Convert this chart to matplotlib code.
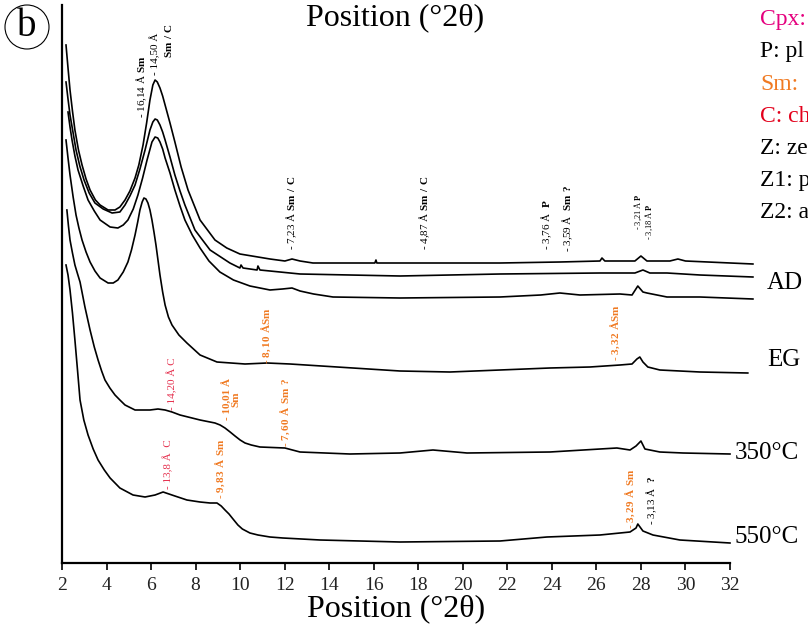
import matplotlib
matplotlib.use("Agg")
import matplotlib.pyplot as plt
from matplotlib.patches import Ellipse

# --- data: 2theta (deg) and intensity (a.u.) ---
top_2t = [2.18, 2.27, 2.36, 2.47, 2.58, 2.74, 2.90, 3.08, 3.26, 3.50, 3.71, 4.07, 4.38, 4.60,
          4.83, 5.05, 5.28, 5.45, 5.64, 5.80, 5.95, 6.08, 6.18, 6.28, 6.40, 6.52, 6.63, 6.85,
          7.07, 7.35, 7.66, 8.20, 8.87, 9.40, 9.99, 11.34, 12.01, 12.33, 12.69, 13.27, 16.05,
          16.10, 16.14, 21.67, 24.36, 26.16, 26.25, 26.38, 27.73, 28.00, 28.27, 29.30, 29.66,
          30.00, 33.03]
top_int = [518, 495, 473, 452, 433, 413, 398, 384, 373, 363, 358, 353, 353, 356,
           363, 372, 385, 398, 418, 440, 463, 478, 483, 481, 475, 467, 458, 440,
           421, 396, 373, 343, 323, 315, 309, 304, 302, 304, 302, 300, 300,
           303, 300, 300, 301, 302, 305, 302, 302, 307, 302, 302, 304,
           302, 299]

mid_2t = [2.18, 2.27, 2.36, 2.50, 2.63, 2.80, 2.99, 3.22, 3.48, 3.85, 4.25, 4.60, 4.83, 5.05,
          5.28, 5.50, 5.73, 5.95, 6.08, 6.18, 6.28, 6.40, 6.52, 6.63, 6.85, 7.07, 7.30, 7.52,
          7.97, 8.65, 9.54, 9.99, 10.04, 10.13, 10.76, 10.80, 10.89, 12.69, 17.18, 21.67,
          26.16, 27.73, 28.09, 28.40, 29.17, 30.65, 33.03]
mid_int = [481, 464, 448, 430, 413, 397, 383, 370, 360, 354, 350, 351, 358, 367,
           378, 394, 413, 433, 441, 444, 443, 438, 431, 423, 406, 388, 372, 358,
           333, 313, 300, 295, 298, 295, 293, 297, 293, 289, 287, 289,
           290, 290, 293, 290, 290, 288, 286]

ad_2t = [2.27, 2.36, 2.45, 2.58, 2.72, 2.95, 3.17, 3.45, 3.71, 4.16, 4.51, 4.75, 4.96, 5.20,
         5.41, 5.62, 5.82, 6.04, 6.18, 6.30, 6.40, 6.52, 6.63, 6.85, 7.07, 7.30, 7.52, 7.85,
         8.20, 8.60, 9.09, 9.70, 10.44, 11.34, 11.90, 12.33, 12.69, 13.30, 14.17, 17.18, 21.67,
         23.50, 24.36, 25.26, 27.06, 27.60, 27.86, 28.09, 28.27, 29.17, 30.65, 33.03]
ad_int = [451, 436, 423, 407, 393, 377, 363, 352, 343, 336, 335, 338, 343, 354,
          368, 385, 403, 421, 426, 425, 421, 414, 405, 390, 373, 357, 343, 328,
          315, 302, 291, 283, 277, 273, 274, 275, 272, 269, 266, 265, 266,
          268, 270, 268, 269, 268, 277, 271, 270, 266, 266, 264]

eg_2t = [2.18, 2.27, 2.36, 2.50, 2.63, 2.76, 2.90, 3.08, 3.26, 3.48, 3.71, 4.07, 4.30, 4.51,
         4.75, 4.96, 5.12, 5.28, 5.40, 5.50, 5.60, 5.68, 5.77, 5.86, 5.95, 6.04, 6.13, 6.22,
         6.31, 6.40, 6.52, 6.63, 6.78, 6.94, 7.25, 7.61, 8.20, 8.96, 10.22, 11.21, 12.24, 17.18,
         19.42, 21.67, 23.91, 25.71, 27.06, 27.60, 27.82, 27.95, 28.09, 28.31, 28.85, 30.65,
         32.80]
eg_int = [423, 405, 388, 366, 348, 335, 323, 311, 301, 292, 285, 280, 280, 283,
          291, 301, 313, 328, 341, 353, 361, 365, 364, 360, 353, 343, 331, 318,
          303, 288, 271, 258, 246, 238, 228, 220, 208, 201, 199, 200, 199, 192,
          191, 193, 195, 196, 198, 199, 204, 206, 201, 196, 193, 191,
          190]

t350_2t = [2.22, 2.29, 2.36, 2.47, 2.58, 2.70, 2.81, 3.03, 3.26, 3.45, 3.62, 3.78, 3.93, 4.15,
           4.38, 4.60, 4.83, 5.28, 5.95, 6.31, 6.63, 6.94, 7.30, 8.20, 8.87, 9.10, 9.32, 9.55,
           9.77, 10.00, 10.22, 10.50, 10.89, 12.01, 12.69, 14.93, 17.18, 18.66, 20.19, 23.91,
           26.92, 27.51, 27.78, 28.00, 28.18, 28.85, 29.89, 32.00]
t350_int = [353, 337, 323, 310, 298, 289, 281, 256, 233, 216, 203, 192, 183, 175,
            168, 163, 158, 153, 153, 154, 153, 151, 148, 143, 140, 138, 135, 131,
            127, 123, 120, 118, 116, 115, 111, 109, 110, 113, 110, 111,
            115, 113, 117, 122, 114, 111, 110, 109]

t550_2t = [2.18, 2.27, 2.36, 2.47, 2.58, 2.70, 2.81, 2.98, 3.17, 3.40, 3.62, 3.90, 4.16, 4.60,
           5.19, 5.73, 6.18, 6.54, 7.07, 7.61, 8.20, 8.65, 8.96, 9.15, 9.32, 9.50, 9.68, 9.90,
           10.10, 10.44, 10.80, 11.34, 11.92, 13.59, 17.18, 21.67, 23.78, 26.16, 27.51, 27.78,
           27.86, 28.09, 28.54, 29.75, 32.00]
t550_int = [298, 288, 273, 250, 223, 192, 163, 143, 128, 114, 103, 93, 85, 75,
            68, 66, 68, 71, 67, 63, 61, 60, 60, 57, 53, 49, 44, 38,
            34, 30, 28, 26, 25, 23, 21, 22, 26, 28, 31, 35,
            39, 32, 28, 23, 20]

curve_labels = ["AD", "EG", "350°C", "550°C"]
x_ticks = list(range(2, 33, 2))

ORANGE = "#f07a22"
RED = "#e5304e"

# peak annotations: (2theta, intensity, text, colour)
peaks = [
    (5.59, 445, r"- 16,14 Å $\mathbf{Sm}$", "black"),
    (6.18, 488, "- 14,50 Å", "black"),
    (12.33, 313, r"- 7,23 Å $\mathbf{Sm\ /\ C}$", "black"),
    (18.30, 313, r"- 4,87 Å $\mathbf{Sm\ /\ C}$", "black"),
    (23.78, 313, r"- 3,76 Å  $\mathbf{P}$", "black"),
    (24.72, 311, r"- 3,59 Å  $\mathbf{Sm\ ?}$", "black"),
    (28.49, 38, r"- 3,13 Å  $\mathbf{?}$", "black"),
    (11.16, 199, r"- $\mathbf{8,10\ ÅSm}$", ORANGE),
    (12.01, 116, r"- $\mathbf{7,60\ Å\ Sm\ ?}$", ORANGE),
    (26.83, 202, r"- $\mathbf{3,32\ ÅSm}$", ORANGE),
    (9.09, 64, r"- $\mathbf{9,83\ Å\ Sm}$", ORANGE),
    (27.51, 34, r"- $\mathbf{3,29\ Å\ Sm}$", ORANGE),
    (6.94, 153, "- 14,20 Å C", RED),
    (6.76, 74, "- 13,8 Å  C", RED),
]

plt.rcParams["font.family"] = ["Liberation Serif", "DejaVu Serif"]
plt.rcParams["mathtext.fontset"] = "custom"
plt.rcParams["mathtext.rm"] = "Liberation Serif"
plt.rcParams["mathtext.bf"] = "Liberation Serif:bold"

fig = plt.figure(figsize=(8.08, 6.37), dpi=100)
ax = fig.add_axes([62 / 808, 74 / 637, 668 / 808, 558 / 637])

for xs, ys in [(top_2t, top_int), (mid_2t, mid_int), (ad_2t, ad_int),
               (eg_2t, eg_int), (t350_2t, t350_int), (t550_2t, t550_int)]:
    ax.plot(xs, ys, color="black", linewidth=1.2, clip_on=False)

ax.set_xlim(2, 32)
ax.set_ylim(0, 558)
ax.set_xticks(x_ticks)
ax.set_yticks([])
for s in ["top", "right"]:
    ax.spines[s].set_visible(False)
ax.spines["left"].set_linewidth(1.6)
ax.spines["bottom"].set_linewidth(1.6)
ax.tick_params(axis="x", direction="out", length=5, width=1.2, labelsize=14,
               labelcolor="#222222", pad=5)
ax.set_xlabel("Position (°2θ)", fontsize=23, labelpad=0)

# peak labels, vertical
for x, y, txt, col in peaks:
    ax.text(x, y, txt, rotation=90, ha="center", va="bottom", fontsize=8,
            color=col, clip_on=False)
ax.text(6.80, 540, r"$\mathbf{Sm\ /\ C}$", rotation=90, ha="center", va="top",
        fontsize=8, color="black")
ax.text(9.59, 143, "- 10,01 Å\nSm", rotation=90, ha="center", va="bottom",
        fontsize=8, color=ORANGE, fontweight="bold", multialignment="center",
        linespacing=1.0)
ax.text(27.88, 333, r"- 3,21 Å $\mathbf{P}$", rotation=90, ha="center", va="bottom",
        fontsize=6, color="black")
ax.text(28.36, 323, r"- 3,18 Å $\mathbf{P}$", rotation=90, ha="center", va="bottom",
        fontsize=6, color="black")

# sample names
for (x, y), lab in zip([(33.65, 280), (33.65, 203), (32.2, 110), (32.2, 26)], curve_labels):
    ax.text(x, y, lab, ha="left", va="center", fontsize=18, clip_on=False)

# top title + panel letter
fig.text(395 / 808, 1 - 18 / 637, "Position (°2θ)", ha="center", va="center", fontsize=23)
fig.patches.append(Ellipse((27 / 808, 1 - 27 / 637), 44 / 808, 44 / 637,
                           transform=fig.transFigure, fill=False, linewidth=0.8,
                           edgecolor="black"))
fig.text(27 / 808, 1 - 27 / 637, "b", ha="center", va="center", fontsize=28)

# mineral key, only the part visible inside the panel
key = [("Cpx:", "#e5007e"), ("P: pl", "black"), ("Sm:", ORANGE), ("C: ch", "#e3001b"),
       ("Z: ze", "black"), ("Z1: p", "black"), ("Z2: a", "black")]
for i, (txt, col) in enumerate(key):
    fig.text(760 / 808, 1 - (20 + 32 * i) / 637, txt, ha="left", va="center",
             fontsize=17, color=col)

fig.savefig("out.png", dpi=100)
